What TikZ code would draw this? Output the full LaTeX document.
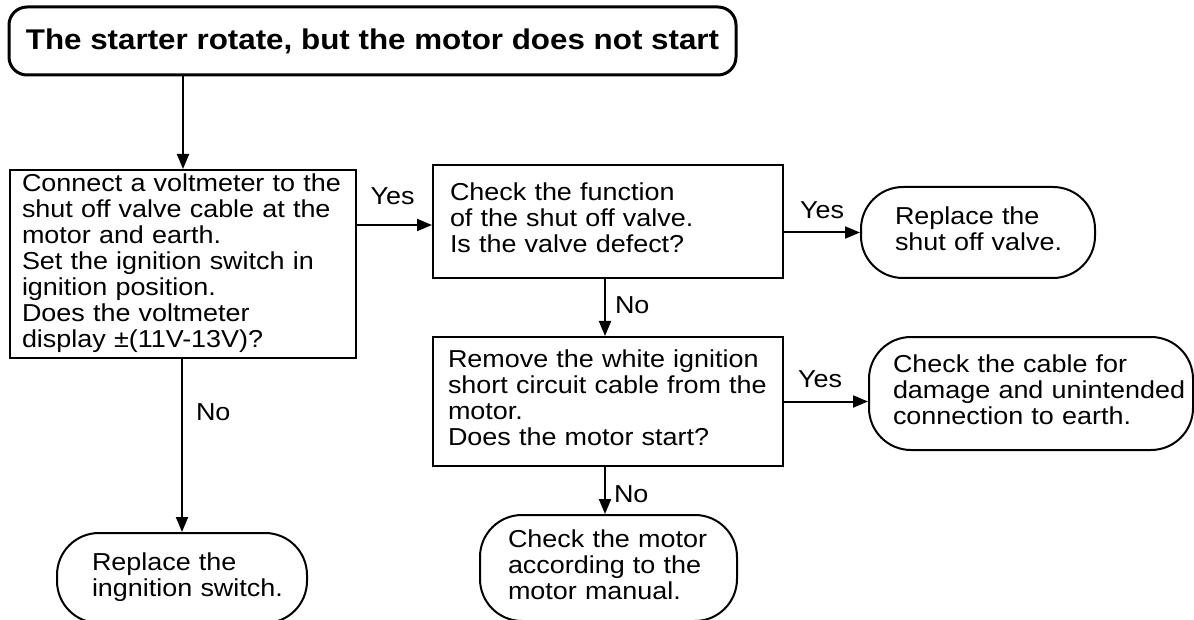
\documentclass[tikz,border=0pt]{standalone}
\usepackage{fontspec}
\setmainfont[FakeStretch=1.1]{Liberation Sans}
\usetikzlibrary{arrows.meta}
\newcommand{\lns}[1]{\begin{tabular}{@{}l@{}}#1\end{tabular}}
\begin{document}
\begin{tikzpicture}[x=1pt,y=-1pt,
  every node/.style={font=\fontsize{24.5}{26}\selectfont},
  box/.style={draw, line width=2pt, inner sep=0pt, align=left},
  pill/.style={box, rounded corners=42pt},
  arr/.style={line width=2pt, -{Triangle[length=15pt,width=12pt]}},
  lab/.style={inner sep=1pt}
]
\useasboundingbox (0,0) rectangle (1194,620);

\node[draw, line width=3pt, rounded corners=18pt, minimum width=727pt, minimum height=68pt, inner sep=0pt,
  font=\fontsize{28.5}{30}\selectfont\bfseries] (t) at (372.5,41) {The starter rotate, but the motor does not start};

\node[box, minimum width=346pt, minimum height=188pt, text width=322pt] (b1) at (183,264)
  {\lns{Connect a voltmeter to the\\shut off valve cable at the\\motor and earth.\\Set the ignition switch in\\ignition position.\\Does the voltmeter\\display ±(11V-13V)?}};

\node[box, minimum width=350pt, minimum height=113pt, text width=316pt] (b2) at (608,221.5)
  {\lns{Check the function\\of the shut off valve.\\Is the valve defect?}};

\node[box, minimum width=350pt, minimum height=129pt, text width=320pt] (b3) at (608,401.5)
  {\lns{Remove the white ignition\\short circuit cable from the\\motor.\\Does the motor start?}};

\node[pill, minimum width=234pt, minimum height=91pt, text width=166pt] (r1) at (978,232.5)
  {\lns{Replace the\\shut off valve.}};

\node[pill, minimum width=324pt, minimum height=113pt, text width=276pt] (c1) at (1031,393.5)
  {\lns{Check the cable for\\damage and unintended\\connection to earth.}};

\node[pill, minimum width=257pt, minimum height=106pt, text width=201pt] (m1) at (608.5,568)
  {\lns{Check the motor\\according to the\\motor manual.}};

\node[pill, minimum width=250pt, minimum height=90pt, text width=180pt] (i1) at (182,578)
  {\lns{Replace the\\ingnition switch.}};

\draw[arr] (t.south -| b1.north) -- (b1.north);

\draw[arr] ([yshift=39pt]b1.east) -- ([yshift=39pt]b1.east -| b2.west)
  node[lab, midway, above=18pt, anchor=south, xshift=-2pt] {Yes};

\draw[arr] (b2.east |- r1.west) -- (r1.west)
  node[lab, midway, above=12pt, anchor=south] {Yes};

\draw[arr] (b3.east) -- (b3.east -| c1.west)
  node[lab, midway, above=12pt, anchor=south, xshift=-6pt] {Yes};

\draw[arr] ([xshift=-3pt]b2.south) -- ([xshift=-3pt]b3.north)
  node[lab, midway, right=8pt, yshift=2pt] {No};

\draw[arr] ([xshift=-3pt]b3.south) -- ([xshift=-3pt]b3.south |- m1.north)
  node[lab, midway, right=7pt, yshift=-4pt] {No};

\draw[arr] (i1.north |- b1.south) -- (i1.north)
  node[lab, pos=0.31, right=12pt] {No};
\end{tikzpicture}
\end{document}
